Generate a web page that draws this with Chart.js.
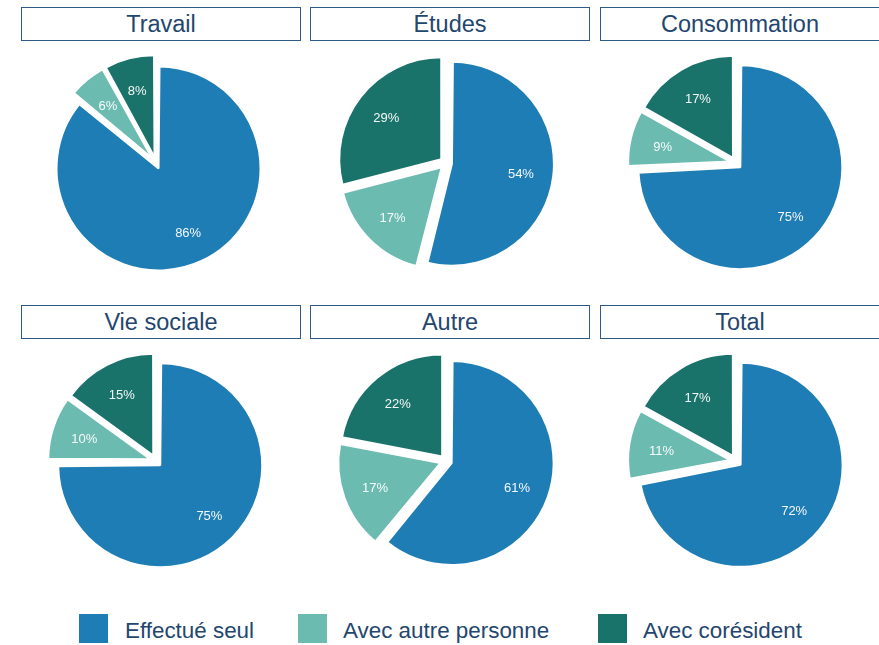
<!DOCTYPE html>
<html>
<head>
<meta charset="utf-8">
<script src="https://cdn.jsdelivr.net/npm/chart.js@4.4.1/dist/chart.umd.min.js"></script>
<style>
  html, body { margin:0; padding:0; background:#ffffff; }
  body { width:879px; height:645px; overflow:hidden; position:relative;
         font-family:"Liberation Sans", Arial, Helvetica, sans-serif; }
  .title { position:absolute; box-sizing:border-box; width:280px; height:34px;
           border:1px solid #2e5a85; color:#23466e; font-size:23.5px;
           display:flex; align-items:center; justify-content:center; }
  canvas.pie { position:absolute; }
  .lg-box { position:absolute; width:29px; height:29px; top:614px; }
  .lg-txt { position:absolute; top:616px; line-height:29px; font-size:22.4px; color:#23466e; white-space:nowrap; }
</style>
</head>
<body>
<script>
// ---- data ----
const categories = ['Travail', 'Études', 'Consommation', 'Vie sociale', 'Autre', 'Total'];
const seriesNames = ['Effectué seul', 'Avec autre personne', 'Avec corésident'];
const effectueSeul     = [86, 54, 75, 75, 61, 72];
const avecAutre        = [6, 17, 9, 10, 17, 11];
const avecCoresident   = [8, 29, 17, 15, 22, 17];

// ---- style ----
const colors = ['#1e7db5', '#6bbbb1', '#1a736a'];
const PIE_RADIUS = 102;
const EXPLODE_PX = 6;
const LABEL_R = 69.5;
const LABEL_DY = 2;
const CANVAS = 250;
const centersX = [156, 446, 736];
const centersY = [163, 461];
const boxLeft = [21, 310, 600];
const boxTop = [7, 305];

const radiusFix = {
  id: 'radiusFix',
  afterUpdate(chart) {
    const meta = chart.getDatasetMeta(0);
    meta.data.forEach(arc => {
      const fix = 1 - Math.sin(Math.min(Math.PI, arc.circumference || 0));
      arc.outerRadius = PIE_RADIUS - EXPLODE_PX * fix;
    });
  }
};

const pctLabels = {
  id: 'pctLabels',
  afterDatasetsDraw(chart) {
    const ctx = chart.ctx;
    const meta = chart.getDatasetMeta(0);
    const vals = chart.data.datasets[0].data;
    ctx.save();
    ctx.font = '13px "Liberation Sans", Arial, sans-serif';
    ctx.fillStyle = 'rgba(255,255,255,0.95)';
    ctx.textAlign = 'center';
    ctx.textBaseline = 'middle';
    meta.data.forEach((arc, i) => {
      const mid = (arc.startAngle + arc.endAngle) / 2;
      const d = EXPLODE_PX + LABEL_R;
      ctx.fillText(vals[i] + '%', arc.x + Math.cos(mid) * d, arc.y + Math.sin(mid) * d + LABEL_DY);
    });
    ctx.restore();
  }
};

categories.forEach((cat, k) => {
  const col = k % 3, row = Math.floor(k / 3);
  const t = document.createElement('div');
  t.className = 'title';
  t.style.left = boxLeft[col] + 'px';
  t.style.top = boxTop[row] + 'px';
  t.textContent = cat;
  document.body.appendChild(t);

  const c = document.createElement('canvas');
  c.className = 'pie';
  c.width = CANVAS; c.height = CANVAS;
  c.style.width = CANVAS + 'px'; c.style.height = CANVAS + 'px';
  c.style.left = (centersX[col] - CANVAS / 2) + 'px';
  c.style.top = (centersY[row] - CANVAS / 2) + 'px';
  document.body.appendChild(c);

  new Chart(c, {
    type: 'pie',
    data: {
      labels: seriesNames,
      datasets: [{
        data: [effectueSeul[k], avecAutre[k], avecCoresident[k]],
        backgroundColor: colors,
        borderColor: '#ffffff',
        borderWidth: 2,
        offset: EXPLODE_PX * 4,
        radius: PIE_RADIUS
      }]
    },
    options: {
      responsive: false,
      animation: false,
      events: [],
      layout: { padding: 0 },
      plugins: { legend: { display: false }, tooltip: { enabled: false }, title: { display: false } }
    },
    plugins: [radiusFix, pctLabels]
  });
});

// legend
const lgBoxX = [79, 298, 598];
const lgTxtX = [125, 343, 643];
seriesNames.forEach((name, i) => {
  const b = document.createElement('div');
  b.className = 'lg-box';
  b.style.left = lgBoxX[i] + 'px';
  b.style.background = colors[i];
  document.body.appendChild(b);
  const s = document.createElement('div');
  s.className = 'lg-txt';
  s.style.left = lgTxtX[i] + 'px';
  s.textContent = name;
  document.body.appendChild(s);
});
</script>
</body>
</html>
